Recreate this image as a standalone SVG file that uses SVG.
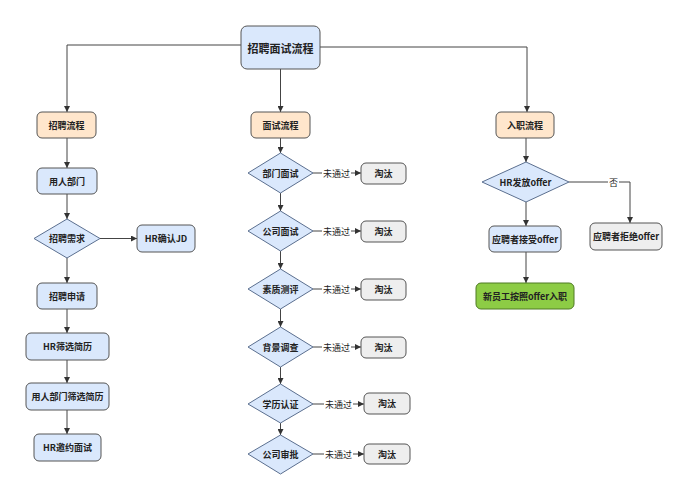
<svg xmlns="http://www.w3.org/2000/svg" width="689" height="500" viewBox="0 0 689 500">
<defs>
<marker id="arr" viewBox="0 0 10 10" refX="10" refY="5" markerWidth="6" markerHeight="6" markerUnits="userSpaceOnUse" orient="auto"><path d="M0,0 L10,5 L0,10 z" fill="#333"/></marker>
<style>
.blue{fill:#dae8fc;stroke:#555;stroke-width:1}
.orange{fill:#ffe6cc;stroke:#555;stroke-width:1}
.gray{fill:#eeeeee;stroke:#555;stroke-width:1}
.green{fill:#8dcc45;stroke:#4e7a24;stroke-width:1}
.dia{fill:#dae8fc;stroke:#5b6f8f;stroke-width:1}
text{font-family:"Noto Sans CJK SC","Noto Sans",sans-serif;font-size:9px;font-weight:bold;fill:#222;text-anchor:middle;dominant-baseline:central}
.title{font-size:11px}
.el{font-weight:normal}
.c{fill:none;stroke:#444;stroke-width:1;marker-end:url(#arr)}
</style>
</defs>
<rect width="689" height="500" fill="#fff"/>
<g id="connectors">
<path class="c" d="M241,45 H67 V112"/>
<path class="c" d="M280.5,69 V112"/>
<path class="c" d="M320,47 H527 V112"/>
<path class="c" d="M67,138 V168"/>
<path class="c" d="M67,194 V219"/>
<path class="c" d="M100,238.5 H137"/>
<path class="c" d="M67,258 V283"/>
<path class="c" d="M67,309 V333"/>
<path class="c" d="M67,360 V383"/>
<path class="c" d="M67,410 V434"/>
<path class="c" d="M280.5,138 V153"/>
<path class="c" d="M280.5,193 V211"/>
<path class="c" d="M280.5,251 V269"/>
<path class="c" d="M280.5,309 V327"/>
<path class="c" d="M280.5,367 V384"/>
<path class="c" d="M280.5,423 V435"/>
<path class="c" d="M313,173 H361"/>
<path class="c" d="M313,231 H361"/>
<path class="c" d="M313,289 H361"/>
<path class="c" d="M313,347 H361"/>
<path class="c" d="M313,404 H364"/>
<path class="c" d="M313,454 H364"/>
<path class="c" d="M526,138 V162"/>
<path class="c" d="M569,182 H630 V223"/>
<path class="c" d="M526,202 V226"/>
<path class="c" d="M526,252 V283"/>
<g id="edge-labels">
<rect x="322" y="167" width="29" height="12" fill="#fff"/><text class="el" x="336.5" y="173">未通过</text>
<rect x="322" y="225" width="29" height="12" fill="#fff"/><text class="el" x="336.5" y="231">未通过</text>
<rect x="322" y="283" width="29" height="12" fill="#fff"/><text class="el" x="336.5" y="289">未通过</text>
<rect x="322" y="341" width="29" height="12" fill="#fff"/><text class="el" x="336.5" y="347">未通过</text>
<rect x="324" y="398" width="29" height="12" fill="#fff"/><text class="el" x="338.5" y="404">未通过</text>
<rect x="324" y="448" width="29" height="12" fill="#fff"/><text class="el" x="338.5" y="454">未通过</text>
<rect x="608" y="176" width="11" height="12" fill="#fff"/><text class="el" x="613.5" y="182">否</text>
</g>
</g>
<g id="n-top"><rect class="blue" x="241" y="26" width="79" height="43" rx="6"/><text class="title" x="280.5" y="47.5">招聘面试流程</text></g>
<g id="n-zp"><rect class="orange" x="37" y="112" width="59" height="26" rx="5"/><text x="66.5" y="125">招聘流程</text></g>
<g id="n-ms"><rect class="orange" x="251" y="112" width="59" height="26" rx="5"/><text x="280.5" y="125">面试流程</text></g>
<g id="n-rz"><rect class="orange" x="496" y="112" width="58" height="26" rx="5"/><text x="525" y="125">入职流程</text></g>

<g id="n-yrbm"><rect class="blue" x="37" y="168" width="60" height="26" rx="5"/><text x="67" y="181">用人部门</text></g>
<g id="n-zpxq"><polygon class="dia" points="67,219 100,238.5 67,258 34,238.5"/><text x="67" y="238.5">招聘需求</text></g>
<g id="n-hrjd"><rect class="blue" x="137" y="225" width="58" height="27" rx="5"/><text x="166" y="238.5">HR确认JD</text></g>
<g id="n-zpsq"><rect class="blue" x="37" y="283" width="60" height="26" rx="5"/><text x="67" y="296">招聘申请</text></g>
<g id="n-hrsx"><rect class="blue" x="26" y="333" width="83" height="27" rx="5"/><text x="67.5" y="346.5">HR筛选简历</text></g>
<g id="n-yrsx"><rect class="blue" x="26" y="383" width="83" height="27" rx="5"/><text x="67.5" y="396.5">用人部门筛选简历</text></g>
<g id="n-hryy"><rect class="blue" x="34" y="434" width="67" height="27" rx="5"/><text x="67.5" y="447.5">HR邀约面试</text></g>

<g id="n-bmms"><polygon class="dia" points="280.5,153 313,173 280.5,193 248,173"/><text x="280.5" y="173">部门面试</text></g>
<g id="n-gsms"><polygon class="dia" points="280.5,211 313,231 280.5,251 248,231"/><text x="280.5" y="231">公司面试</text></g>
<g id="n-szcp"><polygon class="dia" points="280.5,269 313,289 280.5,309 248,289"/><text x="280.5" y="289">素质测评</text></g>
<g id="n-bjdc"><polygon class="dia" points="280.5,327 313,347 280.5,367 248,347"/><text x="280.5" y="347">背景调查</text></g>
<g id="n-xlrz"><polygon class="dia" points="280.5,384 313,404 280.5,423 248,404"/><text x="280.5" y="404">学历认证</text></g>
<g id="n-gssp"><polygon class="dia" points="280.5,435 313,454 280.5,474 248,454"/><text x="280.5" y="454.5">公司审批</text></g>

<g id="n-tt1"><rect class="gray" x="361" y="163" width="45" height="21" rx="5"/><text x="383.5" y="173.5">淘汰</text></g>
<g id="n-tt2"><rect class="gray" x="361" y="221" width="45" height="21" rx="5"/><text x="383.5" y="231.5">淘汰</text></g>
<g id="n-tt3"><rect class="gray" x="361" y="279" width="45" height="21" rx="5"/><text x="383.5" y="289.5">淘汰</text></g>
<g id="n-tt4"><rect class="gray" x="361" y="337" width="45" height="21" rx="5"/><text x="383.5" y="347.5">淘汰</text></g>
<g id="n-tt5"><rect class="gray" x="364" y="393" width="46" height="21" rx="5"/><text x="387" y="403.5">淘汰</text></g>
<g id="n-tt6"><rect class="gray" x="364" y="444" width="46" height="20" rx="5"/><text x="387" y="454">淘汰</text></g>

<g id="n-hrfo"><polygon class="dia" points="526,162 569,182 526,202 482,182"/><text x="525.5" y="182">HR发放offer</text></g>
<g id="n-jsoffer"><rect class="blue" x="489" y="226" width="72" height="26" rx="5"/><text x="525" y="239">应聘者接受offer</text></g>
<g id="n-jjoffer"><rect class="gray" x="590" y="223" width="72" height="27" rx="5"/><text x="626" y="236.5">应聘者拒绝offer</text></g>
<g id="n-rz2"><rect class="green" x="476" y="283" width="98" height="26" rx="5"/><text x="525" y="296">新员工按照offer入职</text></g>
</svg>
